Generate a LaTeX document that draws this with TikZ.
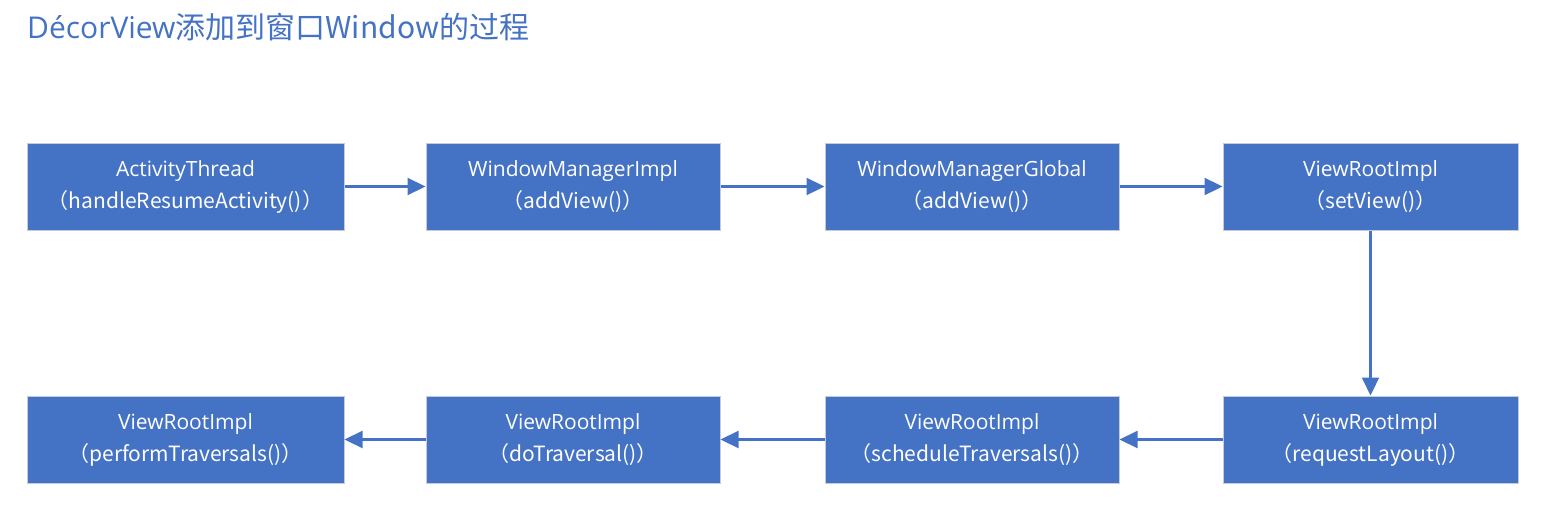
\documentclass[tikz,border=0pt]{standalone}
\usepackage{fontspec}
\setmainfont{Open Sans}
\newfontfamily\cjk{Noto Sans CJK SC}
\usetikzlibrary{arrows.meta}
\definecolor{boxblue}{HTML}{4472C4}
\definecolor{boxedge}{HTML}{C5CCD8}
\begin{document}
\begin{tikzpicture}[x=1pt,y=-1pt,
  box/.style={rectangle,fill=boxblue,draw=boxedge,line width=1pt,minimum width=#1,minimum height=87pt,inner sep=0pt,text=white,align=center,font=\fontsize{21}{32}\selectfont},
  conn/.style={draw=boxblue,line width=2.2pt,-{Triangle[length=18pt,width=17pt]}}]
\useasboundingbox (0,0) rectangle (1550,514);
\node[anchor=base west,text=boxblue,font=\fontsize{30}{34}\selectfont,inner sep=0pt] (title) at (27,38) {DécorView\cjk{添加到窗口}Window\cjk{的过程}};
\node[box=317pt] (a) at (185.5,186.5) {ActivityThread\\\cjk{（}handleResumeActivity()\cjk{）}};
\node[box=294pt] (b) at (573,186.5) {WindowManagerImpl\\\cjk{（}addView()\cjk{）}};
\node[box=294pt] (c) at (972,186.5) {WindowManagerGlobal\\\cjk{（}addView()\cjk{）}};
\node[box=295pt] (d) at (1370.5,186.5) {ViewRootImpl\\\cjk{（}setView()\cjk{）}};
\node[box=295pt] (e) at (1370.5,439.5) {ViewRootImpl\\\cjk{（}requestLayout()\cjk{）}};
\node[box=294pt] (f) at (972,439.5) {ViewRootImpl\\\cjk{（}scheduleTraversals()\cjk{）}};
\node[box=294pt] (g) at (573,439.5) {ViewRootImpl\\\cjk{（}doTraversal()\cjk{）}};
\node[box=317pt] (h) at (185.5,439.5) {ViewRootImpl\\\cjk{（}performTraversals()\cjk{）}};
\draw[conn] (a) -- (b);
\draw[conn] (b) -- (c);
\draw[conn] (c) -- (d);
\draw[conn] (d) -- (e);
\draw[conn] (e) -- (f);
\draw[conn] (f) -- (g);
\draw[conn] (g) -- (h);
\end{tikzpicture}
\end{document}
